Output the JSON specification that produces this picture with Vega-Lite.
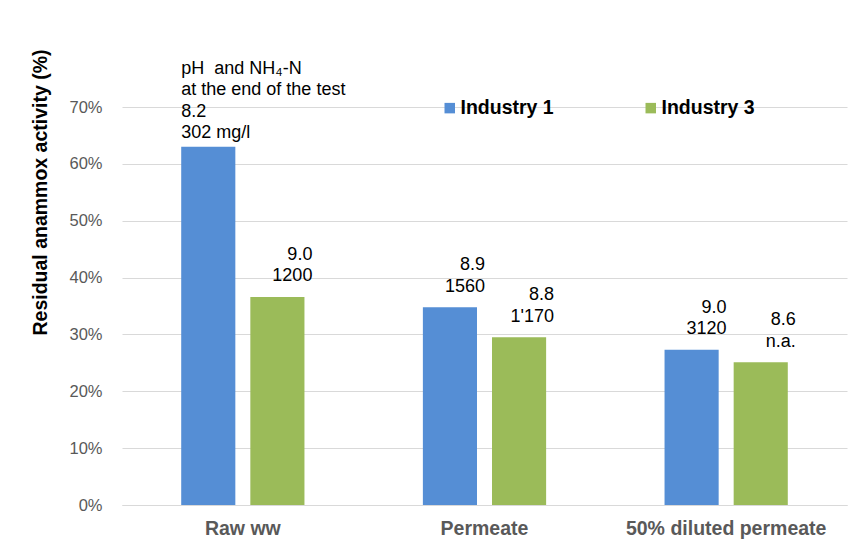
{
  "$schema": "https://vega.github.io/schema/vega-lite/v6.json",
  "width": 725,
  "height": 398,
  "autosize": {"type": "none"},
  "padding": {"left": 122, "top": 107, "right": 8, "bottom": 55},
  "background": "white",
  "config": {
    "font": "Liberation Sans",
    "view": {"stroke": null}
  },
  "data": {
    "values": [
      {"category": "Raw ww", "series": "Industry 1", "value": 0.63, "label": ["8.2", "302 mg/l"]},
      {"category": "Raw ww", "series": "Industry 3", "value": 0.366, "label": ["9.0", "1200"]},
      {"category": "Permeate", "series": "Industry 1", "value": 0.348, "label": ["8.9", "1560"]},
      {"category": "Permeate", "series": "Industry 3", "value": 0.295, "label": ["8.8", "1'170"]},
      {"category": "50% diluted permeate", "series": "Industry 1", "value": 0.273, "label": ["9.0", "3120"]},
      {"category": "50% diluted permeate", "series": "Industry 3", "value": 0.251, "label": ["8.6", "n.a."]}
    ]
  },
  "encoding": {
    "x": {
      "field": "category",
      "type": "nominal",
      "sort": ["Raw ww", "Permeate", "50% diluted permeate"],
      "scale": {"paddingInner": 0.49, "paddingOuter": 0.245},
      "axis": {
        "title": null,
        "labelAngle": 0,
        "ticks": false,
        "domain": true,
        "domainColor": "#d9d9d9",
        "labelFont": "Liberation Sans",
        "labelFontSize": 19.5,
        "labelFontWeight": "bold",
        "labelColor": "#595959",
        "labelPadding": 14,
        "labelLimit": 400
      }
    },
    "xOffset": {
      "field": "series",
      "type": "nominal",
      "scale": {"paddingInner": 0.217, "paddingOuter": 0}
    },
    "y": {
      "field": "value",
      "type": "quantitative",
      "scale": {"domain": [0, 0.7], "nice": false},
      "axis": {
        "title": "Residual anammox activity (%)",
        "titleFontSize": 19.5,
        "titleFontWeight": "bold",
        "titleColor": "#000000",
        "titleX": -82,
        "titleY": 85,
        "titleAngle": -90,
        "titleAlign": "center",
        "titleBaseline": "middle",
        "format": ".0%",
        "values": [0, 0.1, 0.2, 0.3, 0.4, 0.5, 0.6, 0.7],
        "domain": false,
        "ticks": false,
        "grid": true,
        "gridColor": "#d9d9d9",
        "labelFontSize": 16.5,
        "labelColor": "#595959",
        "labelPadding": 20
      }
    }
  },
  "layer": [
    {
      "mark": {"type": "bar"},
      "encoding": {
        "color": {
          "field": "series",
          "type": "nominal",
          "scale": {"domain": ["Industry 1", "Industry 3"], "range": ["#558ED5", "#9BBB59"]},
          "legend": {
            "title": null,
            "orient": "none",
            "direction": "horizontal",
            "legendX": 318,
            "legendY": -9,
            "symbolType": "square",
            "symbolSize": 110,
            "symbolStrokeWidth": 0,
            "labelFontSize": 19.5,
            "labelFontWeight": "bold",
            "labelColor": "#000000",
            "labelOffset": 1,
            "columnPadding": 87
          }
        }
      }
    },
    {
      "transform": [{"filter": "datum.category == 'Raw ww' && datum.series == 'Industry 1'"}],
      "mark": {"type": "text", "align": "left", "baseline": "bottom", "dx": -27, "dy": -69, "fontSize": 18, "lineHeight": 21.5, "color": "#000000"},
      "encoding": {
        "text": {"value": ["pH\u00a0 and NH₄-N", "at the end of the test", "8.2", "302 mg/l"]}
      }
    },
    {
      "transform": [{"filter": "!(datum.category == 'Raw ww' && datum.series == 'Industry 1')"}],
      "mark": {"type": "text", "align": "right", "baseline": "bottom", "dx": 35, "dy": -33, "fontSize": 18, "lineHeight": 21.5, "color": "#000000"},
      "encoding": {
        "text": {"field": "label"}
      }
    }
  ]
}
